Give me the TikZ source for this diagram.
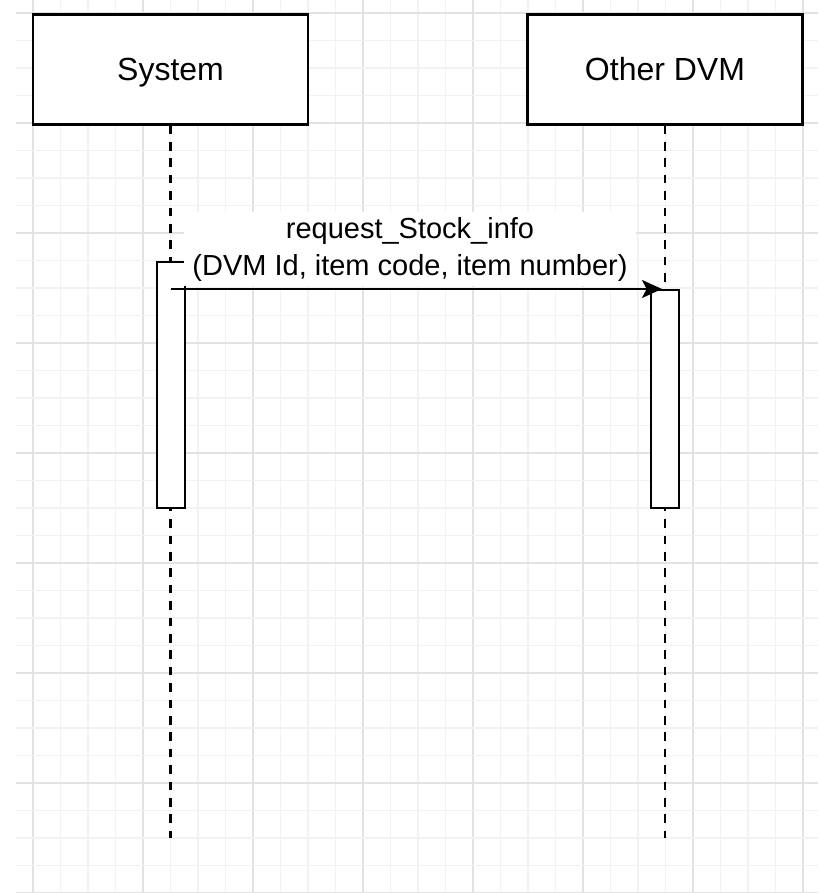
\documentclass[tikz,border=0pt]{standalone}
\usepackage{fontspec}
\setmainfont{Liberation Sans}
\usetikzlibrary{arrows.meta}
\definecolor{gridminor}{HTML}{F2F2F2}
\definecolor{gridmajor}{HTML}{E2E2E2}
\tikzset{
  actor/.style={draw=black, line width=1.6pt, fill=white, minimum width=206.25pt, minimum height=82.5pt, inner sep=0pt, text height=15.75pt, text depth=0pt, font=\fontsize{24}{28}\selectfont},
  actbox/.style={draw=black, line width=1.6pt, fill=white},
  lifeline/.style={line width=1.6pt, dash pattern=on 6.5pt off 5.8pt},
  msg/.style={line width=1.6pt, -{Stealth[length=15pt, width=13.5pt, inset=3.5pt]}},
  msglabel/.style={fill=white, align=center, inner xsep=6pt, inner ysep=3.4pt, font=\fontsize{21.75}{27.75}\selectfont},
}
\begin{document}
\begin{tikzpicture}[x=0.75pt, y=-0.75pt]
\useasboundingbox (0,0) rectangle (818,893);
\fill[white] (0,0) rectangle (818,893);
% grid
\begin{scope}
\clip (16,0) rectangle (818,893);
\foreach \k in {0,...,28}{
  \pgfmathtruncatemacro{\m}{mod(\k,4)}
  \ifnum\m=0\relax
    \draw[gridmajor, line width=1.1pt] ({33+27.5*\k},0) -- ({33+27.5*\k},893);
  \else
    \draw[gridminor, line width=1pt] ({33+27.5*\k},0) -- ({33+27.5*\k},893);
  \fi
}
\foreach \k in {0,...,32}{
  \pgfmathtruncatemacro{\m}{mod(\k,4)}
  \ifnum\m=0\relax
    \draw[gridmajor, line width=1.1pt] (16,{13+27.5*\k}) -- (818,{13+27.5*\k});
  \else
    \draw[gridminor, line width=1pt] (16,{13+27.5*\k}) -- (818,{13+27.5*\k});
  \fi
}
\end{scope}
% actors
\node[actor] (sys) at (170.5,69.5) {System};
\node[actor] (dvm) at (665,69.5) {Other DVM};
% lifeline ends
\coordinate (sysend) at (170.5,838);
\coordinate (dvmend) at (665,838);
\draw[lifeline] (sys.south) -- (sysend);
\draw[lifeline] (dvm.south) -- (dvmend);
% activation boxes
\draw[actbox] (157,262) rectangle (185,508);
\draw[actbox] (651,290) rectangle (679,508);
\coordinate (msgstart) at (170.5,289);
\coordinate (msgend) at (662,289);
% message
\draw[msg] (msgstart) -- (msgend);
\node[msglabel] (lbl) at (410,249) {request\_Stock\_info\\(DVM Id, item code, item number)};
\end{tikzpicture}
\end{document}
